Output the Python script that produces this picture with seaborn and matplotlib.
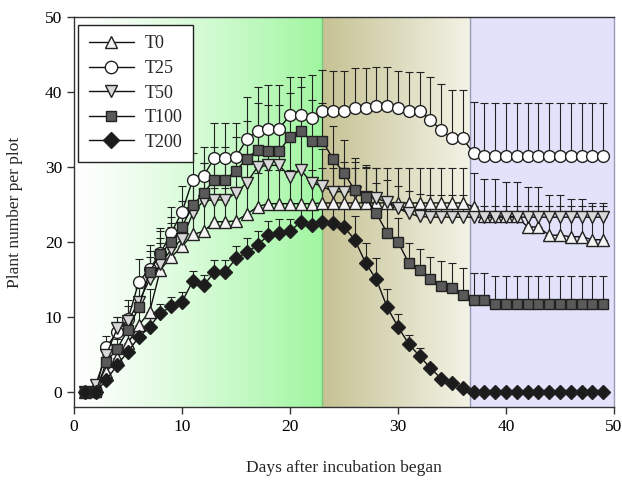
import numpy as np
import pandas as pd
import matplotlib
matplotlib.use("Agg")
import matplotlib.pyplot as plt
import seaborn as sns

days = list(range(1, 50))

T0 = [0, 1.0, 2.7, 4.5, 6.5, 8.9, 10.7, 16.3, 18.0, 19.4,
      21.0, 21.4, 22.7, 22.7, 22.8, 23.7, 24.7, 25.1, 25.1, 25.1,
      25.1, 25.1, 25.2, 25.2, 25.2, 25.2, 25.2, 25.2, 25.2, 25.2,
      25.2, 25.2, 25.2, 25.2, 25.2, 25.2, 24.7, 23.5, 23.5, 23.4,
      23.4, 22.0, 22.0, 20.9, 20.9, 20.7, 20.7, 20.3, 20.3]
T0_err = [0, 0.5, 1.0, 1.5, 2.0, 2.5, 3.0, 3.5, 4.0, 4.5,
          4.5, 4.5, 4.5, 4.5, 4.5, 4.5, 4.5, 4.5, 4.5, 4.5,
          4.5, 4.5, 4.7, 4.7, 4.7, 4.7, 4.7, 4.7, 4.7, 4.7,
          4.7, 4.7, 4.7, 4.7, 4.7, 4.7, 4.5, 4.9, 4.9, 4.6,
          4.6, 5.3, 5.3, 5.4, 5.4, 5.0, 5.0, 4.9, 4.9]

T25 = [0, 0, 6.0, 8.0, 9.7, 14.7, 16.4, 18.5, 21.2, 24.0,
       28.3, 28.8, 31.2, 31.2, 31.3, 33.7, 34.8, 35.1, 35.1, 36.9,
       36.9, 36.5, 37.5, 37.5, 37.5, 37.8, 37.9, 38.1, 38.1, 37.8,
       37.5, 37.5, 36.3, 34.9, 33.8, 33.8, 31.8, 31.4, 31.4, 31.4,
       31.4, 31.4, 31.4, 31.4, 31.4, 31.4, 31.4, 31.4, 31.4]
T25_err = [0, 0, 1.5, 2.0, 2.5, 3.0, 3.2, 3.4, 3.5, 3.5,
           3.5, 3.8, 4.6, 4.6, 4.6, 5.6, 5.9, 5.8, 5.8, 5.1,
           5.1, 5.8, 5.4, 5.3, 5.3, 5.4, 5.3, 5.2, 5.2, 5.0,
           5.1, 5.1, 5.7, 6.2, 6.4, 6.4, 6.8, 7.1, 7.1, 7.1,
           7.1, 7.1, 7.1, 7.1, 7.1, 7.1, 7.1, 7.1, 7.1]

T50 = [0, 1.0, 5.0, 8.5, 9.5, 12.0, 15.0, 17.0, 19.0, 20.4,
       23.8, 25.5, 25.6, 25.6, 26.5, 27.9, 30.0, 30.2, 30.2, 28.7,
       29.6, 27.9, 27.4, 26.7, 26.7, 26.7, 26.0, 25.8, 25.3, 24.5,
       23.8, 23.4, 23.3, 23.3, 23.3, 23.3, 23.3, 23.3, 23.3, 23.3,
       23.3, 23.3, 23.3, 23.3, 23.3, 23.3, 23.3, 23.3, 23.3]
T50_err = [0, 0.5, 1.0, 1.5, 2.0, 2.5, 3.0, 3.5, 3.5, 4.0,
           4.5, 5.0, 5.0, 5.0, 5.0, 5.5, 5.5, 5.5, 5.5, 5.5,
           5.5, 5.5, 5.0, 4.0, 4.0, 4.0, 4.0, 4.0, 3.0, 3.0,
           3.0, 3.0, 3.0, 3.0, 3.0, 3.0, 1.5, 1.5, 1.5, 1.5,
           1.5, 1.5, 1.5, 1.5, 1.5, 1.5, 1.5, 1.5, 1.5]

T100 = [0, 0, 4.0, 5.8, 8.3, 11.3, 16.0, 18.4, 20.0, 22.0,
        24.9, 26.5, 28.3, 28.3, 29.5, 31.1, 32.3, 32.1, 32.1, 34.0,
        34.8, 33.4, 33.5, 31.0, 29.2, 26.9, 26.0, 23.8, 21.2, 20.0,
        17.2, 16.2, 15.0, 14.1, 13.8, 12.9, 12.2, 12.2, 11.7, 11.7,
        11.7, 11.7, 11.7, 11.7, 11.7, 11.7, 11.7, 11.7, 11.7]
T100_err = [0, 0, 0.8, 1.2, 1.8, 2.5, 2.8, 3.0, 3.3, 3.5,
            3.8, 4.0, 4.3, 4.3, 4.5, 5.0, 6.2, 6.2, 6.2, 5.8,
            5.8, 5.5, 5.0, 4.5, 4.4, 4.3, 4.2, 4.0, 3.5, 3.2,
            2.6, 2.8, 3.0, 3.3, 3.4, 3.6, 3.7, 3.7, 3.7, 3.7,
            3.7, 3.7, 3.7, 3.7, 3.7, 3.7, 3.7, 3.7, 3.7]

T200 = [0, 0, 1.6, 3.6, 5.4, 7.3, 8.7, 10.5, 11.4, 12.0,
        14.8, 14.2, 16.0, 16.0, 17.8, 18.6, 19.6, 20.9, 21.2, 21.4,
        22.7, 22.3, 22.6, 22.5, 22.0, 20.3, 17.2, 15.0, 11.3, 8.7,
        6.4, 4.8, 3.2, 1.8, 1.2, 0.5, 0, 0, 0, 0,
        0, 0, 0, 0, 0, 0, 0, 0, 0]
T200_err = [0, 0, 0.5, 0.8, 1.0, 1.1, 1.2, 1.2, 1.2, 1.3,
            1.3, 1.4, 1.6, 1.6, 1.7, 1.9, 1.9, 1.9, 1.8, 1.6,
            2.0, 2.0, 2.0, 2.5, 3.0, 3.2, 2.6, 2.8, 2.4, 1.7,
            1.2, 1.1, 0.6, 0.4, 0.3, 0.2, 0, 0, 0, 0,
            0, 0, 0, 0, 0, 0, 0, 0, 0]

labels = ["T0", "T25", "T50", "T100", "T200"]
series = [T0, T25, T50, T100, T200]
errors = [T0_err, T25_err, T50_err, T100_err, T200_err]

phase_bounds = [0, 23.0, 36.7, 50]

sns.set_style("ticks")
plt.rcParams["font.family"] = ["Liberation Serif", "DejaVu Serif"]
plt.rcParams["font.size"] = 12.5

fig = plt.figure(figsize=(6.22, 4.8), dpi=100)
ax = fig.add_axes([0.119, 0.152, 0.868, 0.813])

ylim = (-2, 50)
# background gradients
n = 256
g = np.linspace(0, 1, n) ** 1.2
c0 = np.array([1.0, 1.0, 1.0]); c1 = np.array([160, 246, 160]) / 255
grad1 = (c0[None, :] * (1 - g[:, None]) + c1[None, :] * g[:, None])[None, :, :]
ax.imshow(grad1, extent=[phase_bounds[0], phase_bounds[1], ylim[0], ylim[1]],
          aspect="auto", zorder=0, interpolation="bilinear")
g2 = np.linspace(0, 1, n)
c2 = np.array([198, 194, 148]) / 255; c3 = np.array([243, 243, 230]) / 255
grad2 = (c2[None, :] * (1 - g2[:, None]) + c3[None, :] * g2[:, None])[None, :, :]
ax.imshow(grad2, extent=[phase_bounds[1], phase_bounds[2], ylim[0], ylim[1]],
          aspect="auto", zorder=0, interpolation="bilinear")
ax.axvspan(phase_bounds[2], phase_bounds[3], color="#e2e2fa", zorder=0, lw=0)
ax.axvline(phase_bounds[1], color="#7cc77c", lw=1.0, zorder=0.5)
ax.axvline(phase_bounds[2], color="#9a9ab8", lw=1.0, zorder=0.5)

styles = {
    "T0": dict(marker="^", markerfacecolor="#f4f4f4"),
    "T25": dict(marker="o", markerfacecolor="#ffffff"),
    "T50": dict(marker="v", markerfacecolor="#d8d8d8"),
    "T100": dict(marker="s", markerfacecolor="#5a5a5a"),
    "T200": dict(marker="D", markerfacecolor="#1c1c1c"),
}
sizes = {"T0": 8.5, "T25": 8.5, "T50": 8.5, "T100": 7.5, "T200": 7.5}

for i, (lab, vals, err) in enumerate(zip(labels, series, errors)):
    vals = np.array(vals, dtype=float)
    err = np.array(err, dtype=float)
    ax.errorbar(days, vals, yerr=[np.zeros_like(err), err], fmt="none",
                ecolor="#222222", elinewidth=0.8, capsize=3, capthick=0.8,
                zorder=2 + i * 0.1)
    df = pd.DataFrame({"day": days, "value": vals})
    sns.lineplot(data=df, x="day", y="value", ax=ax, color="#111111", lw=1.0,
                 markeredgecolor="#222222", markeredgewidth=1.0,
                 markersize=sizes[lab], label=lab, zorder=3 + i * 0.1,
                 **styles[lab])

ax.set_xlim(0, 50)
ax.set_ylim(*ylim)
ax.set_xticks([0, 10, 20, 30, 40, 50])
ax.set_yticks([0, 10, 20, 30, 40, 50])
ax.tick_params(direction="out", length=5, width=1, colors="#333333",
               labelcolor="black", labelsize=12.5)
for sp in ax.spines.values():
    sp.set_color("#333333")
    sp.set_linewidth(1.0)
ax.spines["right"].set_color("#9a9ab8")
ax.set_xlabel("Days after incubation began", fontsize=12.5, labelpad=18)
ax.set_ylabel("Plant number per plot", fontsize=12.5, labelpad=16)

leg = ax.legend(loc="upper left", bbox_to_anchor=(0.007, 0.98), borderaxespad=0,
                frameon=True, fancybox=False, edgecolor="#222222",
                framealpha=1, handlelength=2.5, handletextpad=0.6,
                labelspacing=0.42, fontsize=13, borderpad=0.6, markerscale=1.05)
leg.get_frame().set_linewidth(1.0)

fig.savefig("out.png", dpi=100)
